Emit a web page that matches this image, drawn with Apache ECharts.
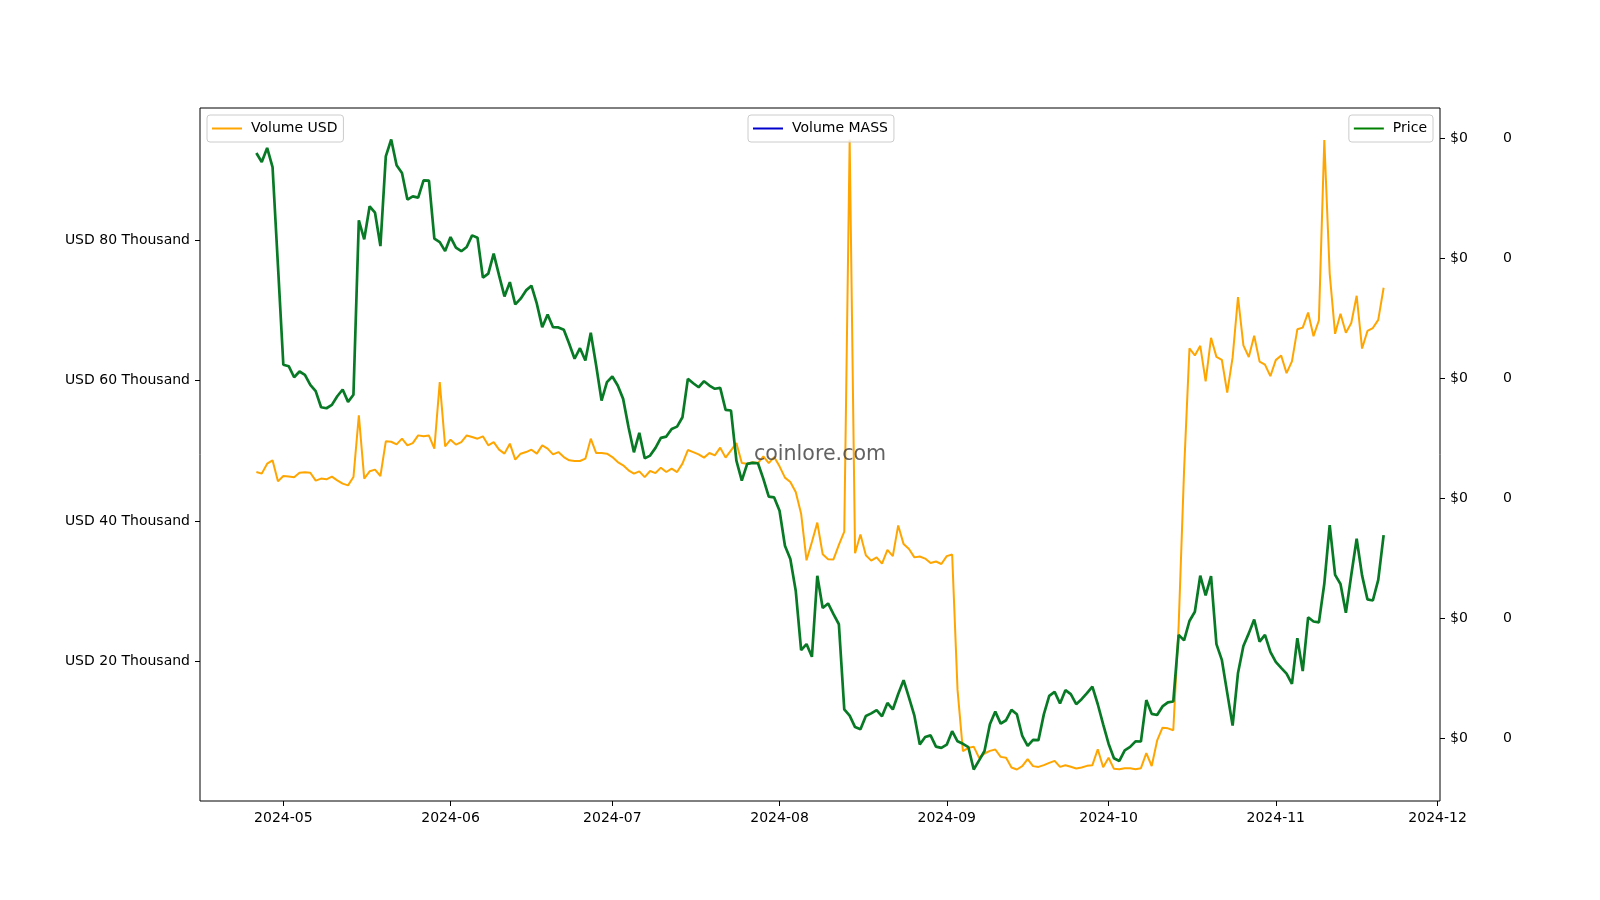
<!DOCTYPE html>
<html>
<head>
<meta charset="utf-8">
<script src="https://cdn.jsdelivr.net/npm/echarts@6/dist/echarts.min.js"></script>
<style>
  html, body { margin: 0; padding: 0; background: #fff; }
  #chart { width: 1600px; height: 900px; }
</style>
</head>
<body>
<div id="chart"></div>
<script>
// ---- data ----
const startDate = '2024-04-26';   // first daily observation
const dayCount = 210;             // daily observations through 2024-11-21

const volumeUsd = [
  46990, 46760, 48180, 48650, 45660, 46420, 46350, 46230, 46900, 46940,
  46880, 45760, 46050, 45950, 46330, 45800, 45330, 45090, 46270, 55060,
  46050, 47090, 47330, 46420, 51360, 51300, 50930, 51740, 50790, 51110,
  52210, 52070, 52180, 50320, 59800, 50650, 51600, 50890, 51260, 52200,
  51970, 51740, 52070, 50790, 51250, 50180, 49610, 51030, 48750, 49600,
  49830, 50170, 49610, 50790, 50320, 49510, 49830, 49120, 48650, 48550,
  48560, 48890, 51740, 49690, 49690, 49600, 49120, 48410, 47940, 47230,
  46760, 47090, 46270, 47130, 46840, 47610, 46990, 47470, 46980, 48180,
  50120, 49830, 49510, 49040, 49700, 49360, 50460, 49040, 50080, 51110,
  48270, 48180, 48370, 48270, 49220, 48260, 49120, 47800, 46190, 45560,
  44140, 41060, 34410, 37020, 39780, 35270, 34560, 34540, 36610, 38500,
  94360, 35420, 38090, 35130, 34370, 34840, 33940, 35890, 35010, 39380,
  36720, 36020, 34830, 34950, 34660, 34020, 34240, 33890, 35010, 35250,
  15950, 7220, 7690, 7860, 6270, 6890, 7260, 7460, 6410, 6270,
  4900, 4610, 5080, 6080, 5090, 4980, 5230, 5550, 5840, 4980,
  5220, 4990, 4760, 4900, 5130, 5230, 7500, 4940, 6280, 4700,
  4660, 4800, 4790, 4660, 4800, 6950, 5110, 8710, 10570, 10470,
  10210, 25160, 47230, 64600, 63600, 64970, 59910, 66110, 63390, 62980,
  58310, 63320, 71920, 65040, 63370, 66410, 62720, 62290, 60640, 62930,
  63590, 61080, 62760, 67320, 67560, 69710, 66340, 68610, 94280, 75230,
  66680, 69540, 66830, 68210, 72100, 64580, 67090, 67500, 68660, 73240
];

const priceUsd = [
  5.876e-6, 5.801e-6, 5.918e-6, 5.759e-6, 4.940e-6, 4.113e-6, 4.101e-6, 4.009e-6, 4.057e-6, 4.029e-6,
  3.946e-6, 3.893e-6, 3.759e-6, 3.751e-6, 3.779e-6, 3.851e-6, 3.907e-6, 3.804e-6, 3.863e-6, 5.315e-6,
  5.157e-6, 5.432e-6, 5.379e-6, 5.101e-6, 5.848e-6, 5.988e-6, 5.773e-6, 5.709e-6, 5.488e-6, 5.515e-6,
  5.504e-6, 5.648e-6, 5.645e-6, 5.163e-6, 5.134e-6, 5.059e-6, 5.176e-6, 5.088e-6, 5.058e-6, 5.093e-6,
  5.190e-6, 5.171e-6, 4.838e-6, 4.871e-6, 5.038e-6, 4.857e-6, 4.682e-6, 4.801e-6, 4.615e-6, 4.663e-6,
  4.732e-6, 4.771e-6, 4.621e-6, 4.426e-6, 4.532e-6, 4.425e-6, 4.424e-6, 4.404e-6, 4.288e-6, 4.163e-6,
  4.251e-6, 4.148e-6, 4.379e-6, 4.107e-6, 3.815e-6, 3.968e-6, 4.015e-6, 3.940e-6, 3.829e-6, 3.593e-6,
  3.384e-6, 3.546e-6, 3.334e-6, 3.357e-6, 3.421e-6, 3.504e-6, 3.515e-6, 3.579e-6, 3.598e-6, 3.676e-6,
  3.996e-6, 3.959e-6, 3.926e-6, 3.976e-6, 3.940e-6, 3.913e-6, 3.921e-6, 3.738e-6, 3.732e-6, 3.315e-6,
  3.148e-6, 3.288e-6, 3.296e-6, 3.293e-6, 3.163e-6, 3.015e-6, 3.009e-6, 2.898e-6, 2.607e-6, 2.496e-6,
  2.232e-6, 1.738e-6, 1.788e-6, 1.682e-6, 2.357e-6, 2.088e-6, 2.126e-6, 2.038e-6, 1.953e-6, 1.245e-6,
  1.193e-6, 1.097e-6, 1.079e-6, 1.190e-6, 1.211e-6, 1.238e-6, 1.187e-6, 1.298e-6, 1.244e-6, 1.373e-6,
  1.488e-6, 1.343e-6, 1.192e-6, 0.952e-6, 1.014e-6, 1.028e-6, 0.934e-6, 0.924e-6, 0.951e-6, 1.063e-6,
  0.979e-6, 0.958e-6, 0.931e-6, 0.744e-6, 0.820e-6, 0.898e-6, 1.121e-6, 1.226e-6, 1.126e-6, 1.154e-6,
  1.240e-6, 1.204e-6, 1.023e-6, 0.940e-6, 0.990e-6, 0.988e-6, 1.203e-6, 1.357e-6, 1.390e-6, 1.293e-6,
  1.404e-6, 1.371e-6, 1.288e-6, 1.329e-6, 1.379e-6, 1.434e-6, 1.287e-6, 1.120e-6, 0.959e-6, 0.838e-6,
  0.815e-6, 0.904e-6, 0.932e-6, 0.978e-6, 0.977e-6, 1.322e-6, 1.207e-6, 1.198e-6, 1.269e-6, 1.303e-6,
  1.310e-6, 1.865e-6, 1.819e-6, 1.980e-6, 2.057e-6, 2.357e-6, 2.194e-6, 2.353e-6, 1.788e-6, 1.657e-6,
  1.382e-6, 1.109e-6, 1.548e-6, 1.772e-6, 1.877e-6, 1.993e-6, 1.808e-6, 1.865e-6, 1.723e-6, 1.640e-6,
  1.590e-6, 1.542e-6, 1.456e-6, 1.837e-6, 1.563e-6, 2.011e-6, 1.976e-6, 1.969e-6, 2.290e-6, 2.779e-6,
  2.364e-6, 2.288e-6, 2.048e-6, 2.363e-6, 2.665e-6, 2.360e-6, 2.160e-6, 2.151e-6, 2.323e-6, 2.695e-6
];

const volumeMass = [];   // no MASS volume values are drawn in the reference

const monthTicks = ['2024-05-01', '2024-06-01', '2024-07-01', '2024-08-01',
                    '2024-09-01', '2024-10-01', '2024-11-01', '2024-12-01'];
const usdTicks = [20000, 40000, 60000, 80000];
const priceTicks = [1e-6, 2e-6, 3e-6, 4e-6, 5e-6, 6e-6];
const massTicks = [1e-6, 2e-6, 3e-6, 4e-6, 5e-6, 6e-6];

// ---- build ----
const DAY = 86400000;
const t0 = Date.parse(startDate + 'T00:00:00Z');
const times = [];
for (let i = 0; i < dayCount; i++) times.push(t0 + i * DAY);

function padded(vals) {            // matplotlib-style 5% margins
  const lo = Math.min.apply(null, vals), hi = Math.max.apply(null, vals);
  const m = (hi - lo) * 0.05;
  return [lo - m, hi + m];
}
const xr = padded(times);
const yUsd = padded(volumeUsd);
const yPrice = padded(priceUsd);

const FONT = 'DejaVu Sans';
const pair = (arr) => arr.map((v, i) => [times[i], v]);
const tickTs = monthTicks.map(s => Date.parse(s + 'T00:00:00Z'));
const fmtMonth = (v) => {
  const d = new Date(v);
  const m = d.getUTCMonth() + 1;
  return d.getUTCFullYear() + '-' + (m < 10 ? '0' + m : m);
};

const G = { left: 200, right: 160, top: 108, bottom: 99 };
const tickCommon = { show: true, length: 5, lineStyle: { color: '#000', width: 1 } };
const labelCommon = { color: '#000', fontFamily: FONT, fontSize: 14, margin: 10 };

const legendCommon = {
  icon: 'rect', itemWidth: 30, itemHeight: 2, selectedMode: false,
  orient: 'horizontal', top: 115,
  backgroundColor: 'rgba(255,255,255,0.8)', borderColor: '#cccccc', borderWidth: 1,
  borderRadius: 3, padding: [5, 6, 5, 5],
  textStyle: { fontFamily: FONT, fontSize: 14, color: '#000', padding: [2, 0, 0, 4], lineHeight: 15 }
};

const chart = echarts.init(document.getElementById('chart'), null, { renderer: 'canvas' });
chart.setOption({
  animation: false,
  backgroundColor: '#fff',
  grid: Object.assign({ show: true, borderColor: '#000', borderWidth: 1, backgroundColor: 'transparent' }, G),
  legend: [
    Object.assign({}, legendCommon, { data: ['Volume USD'], left: 207 }),
    Object.assign({}, legendCommon, { data: ['Volume MASS'], left: 748 }),
    Object.assign({}, legendCommon, { data: ['Price'], right: 167 })
  ],
  xAxis: {
    type: 'value', min: xr[0], max: xr[1],
    axisLine: { show: false }, splitLine: { show: false },
    axisTick: Object.assign({ customValues: tickTs }, tickCommon),
    axisLabel: Object.assign({ customValues: tickTs, formatter: fmtMonth }, labelCommon)
  },
  yAxis: [
    {
      type: 'value', position: 'left', min: yUsd[0], max: yUsd[1],
      axisLine: { show: false }, splitLine: { show: false },
      axisTick: Object.assign({ customValues: usdTicks }, tickCommon),
      axisLabel: Object.assign({ customValues: usdTicks,
        formatter: v => 'USD ' + Math.round(v / 1000) + ' Thousand' }, labelCommon)
    },
    {
      type: 'value', position: 'right', min: yPrice[0], max: yPrice[1],
      axisLine: { show: false }, splitLine: { show: false },
      axisTick: Object.assign({ customValues: priceTicks }, tickCommon),
      axisLabel: Object.assign({ customValues: priceTicks,
        formatter: v => '$' + v.toFixed(0) }, labelCommon)
    },
    {
      type: 'value', position: 'right', offset: 55, min: yPrice[0], max: yPrice[1],
      axisLine: { show: false }, splitLine: { show: false },
      axisTick: { show: false },
      axisLabel: Object.assign({ customValues: massTicks,
        formatter: v => v.toFixed(0) }, labelCommon, { margin: 8 })
    }
  ],
  series: [
    {
      name: 'Volume USD', type: 'line', yAxisIndex: 0, data: pair(volumeUsd),
      showSymbol: false, symbol: 'none', color: '#FFA500',
      lineStyle: { color: '#FFA500', width: 2 }, z: 2
    },
    {
      name: 'Volume MASS', type: 'line', yAxisIndex: 2, data: pair(volumeMass),
      showSymbol: false, symbol: 'none', color: '#0000CD',
      lineStyle: { color: '#0000CD', width: 2 }, z: 3
    },
    {
      name: 'Price', type: 'line', yAxisIndex: 1, data: pair(priceUsd),
      showSymbol: false, symbol: 'none', color: '#008000',
      lineStyle: { color: '#087a25', width: 2.7 }, z: 4
    }
  ],
  graphic: [{
    type: 'text', z: 100,
    x: G.left + (1600 - G.left - G.right) / 2,
    y: G.top + (900 - G.top - G.bottom) / 2,
    style: {
      text: 'coinlore.com', fontFamily: FONT, fontSize: 20.6, fill: 'rgba(70,70,70,0.85)',
      textAlign: 'center', textVerticalAlign: 'middle'
    }
  }]
});
</script>
</body>
</html>
